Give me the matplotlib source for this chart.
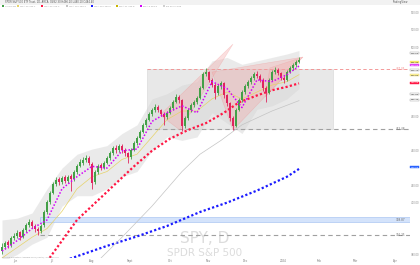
import numpy as np
import matplotlib
matplotlib.use("Agg")
import matplotlib.pyplot as plt
from matplotlib.patches import Polygon, Rectangle

# daily candles
opens = [382.0, 384.4, 387.0, 385.5, 389.8, 390.6, 392.8, 390.4, 394.0, 397.3,
         399.0, 396.4, 395.0, 393.5, 396.8, 404.8, 410.2, 415.8, 420.6, 423.4,
         422.0, 424.6, 422.4, 425.2, 423.8, 427.5, 431.4, 433.2, 434.9, 436.0,
         432.6, 421.8, 427.6, 431.5, 430.0, 433.0, 435.6, 438.9, 441.8, 440.3,
         443.0, 440.6, 438.9, 436.2, 440.7, 444.3, 447.6, 451.1, 454.7, 458.0,
         461.5, 463.4, 465.5, 463.4, 461.5, 459.3, 462.0, 464.5, 468.4, 471.3,
         469.2, 454.6, 459.2, 463.4, 466.7, 468.0, 470.7, 476.5, 484.6, 485.7,
         480.7, 478.2, 473.6, 477.3, 479.0, 472.1, 467.4, 458.8, 454.5, 463.8,
         469.6, 474.2, 477.3, 480.0, 482.3, 484.6, 483.0, 481.1, 476.1, 473.6,
         481.1, 485.7, 486.9, 484.8, 481.9, 481.1, 485.7, 488.1, 489.4, 491.5]
highs = [386.5, 388.0, 388.2, 390.8, 392.5, 394.0, 393.6, 395.2, 398.5, 400.6,
         400.0, 397.6, 396.2, 397.4, 405.5, 411.5, 416.8, 421.8, 424.6, 424.8,
         425.6, 425.8, 426.2, 426.4, 428.6, 432.4, 435.0, 436.2, 437.8, 437.0,
         433.4, 428.6, 432.2, 433.0, 434.0, 436.8, 439.8, 443.0, 443.4, 444.2,
         443.8, 441.6, 439.5, 441.4, 445.6, 448.6, 452.0, 456.0, 459.2, 462.6,
         465.0, 466.8, 466.4, 464.4, 462.4, 462.8, 465.8, 469.4, 472.6, 472.2,
         470.0, 460.2, 464.6, 467.6, 469.6, 471.8, 477.4, 485.6, 487.6, 486.4,
         481.8, 479.0, 478.6, 480.6, 479.8, 473.0, 468.2, 460.0, 464.6, 470.4,
         475.2, 478.6, 481.0, 483.4, 485.8, 486.0, 484.2, 481.8, 477.2, 482.0,
         486.8, 488.2, 487.8, 485.6, 483.2, 486.6, 489.2, 490.8, 492.6, 494.2]
lows = [380.5, 383.2, 384.0, 384.6, 388.4, 389.5, 388.6, 389.4, 393.0, 396.2,
        395.2, 393.0, 391.2, 392.4, 396.0, 403.6, 409.5, 414.8, 419.5, 420.5,
        421.0, 421.4, 421.6, 416.5, 422.8, 426.8, 430.4, 432.0, 433.6, 431.5,
        418.0, 420.6, 426.4, 428.6, 429.2, 432.2, 434.6, 437.8, 439.0, 439.2,
        439.0, 437.2, 433.0, 435.2, 439.8, 443.4, 446.8, 450.2, 453.8, 457.0,
        460.4, 462.2, 462.2, 460.0, 455.0, 458.2, 461.0, 463.6, 467.4, 467.8,
        451.6, 453.2, 458.0, 462.4, 465.4, 467.0, 469.8, 475.6, 483.0, 479.6,
        476.6, 470.0, 472.4, 476.0, 470.8, 466.0, 457.4, 452.0, 453.6, 462.8,
        468.4, 473.0, 476.2, 478.8, 481.2, 482.0, 479.6, 474.8, 468.0, 472.6,
        480.2, 484.6, 483.8, 480.8, 479.4, 480.2, 484.8, 487.0, 488.4, 490.6]
closes = [384.4, 386.7, 385.5, 389.6, 390.8, 392.5, 390.2, 394.2, 397.1, 398.8,
          396.5, 394.8, 393.6, 396.5, 404.6, 410.4, 415.6, 420.8, 423.1, 421.9,
          424.3, 422.5, 424.9, 423.7, 427.7, 431.2, 433.5, 434.7, 435.8, 432.9,
          421.4, 427.7, 431.2, 430.1, 432.9, 435.8, 438.7, 441.6, 440.5, 442.8,
          440.5, 438.7, 436.4, 440.5, 444.5, 447.4, 450.9, 454.9, 457.8, 461.3,
          463.6, 465.3, 463.6, 461.3, 459.5, 461.8, 464.7, 468.2, 471.1, 469.4,
          454.3, 459.0, 463.6, 466.5, 468.2, 470.5, 476.3, 484.4, 485.5, 480.9,
          478.0, 473.4, 477.5, 479.2, 472.3, 467.6, 459.0, 454.3, 463.6, 469.4,
          474.0, 477.5, 479.8, 482.1, 484.4, 483.2, 480.9, 476.3, 473.4, 480.9,
          485.5, 486.7, 485.0, 482.1, 480.9, 485.5, 487.9, 489.6, 491.3, 492.5]

# indicator lines, sampled every few bars
ma_idx = [0, 5, 10, 15, 20, 25, 30, 35, 40, 45, 50, 55, 60, 65, 70, 75, 80, 85, 90, 95, 99]
ma_fast = [382, 388, 395, 400, 418, 425, 431, 430, 440, 441, 457, 462, 466, 462, 480, 476, 465, 481, 480, 484, 489]
ma_20 = [378, 384, 390, 395, 405, 418, 425, 428, 435, 438, 448, 458, 463, 463, 470, 474, 470, 474, 478, 480, 484]
band_up = [400, 401, 404, 418, 430, 438, 441, 443, 450, 455, 470, 473, 478, 480, 492, 494, 490, 492, 494, 496, 498]
band_lo = [376, 380, 386, 390, 408, 414, 414, 418, 425, 428, 440, 448, 446, 448, 462, 456, 450, 464, 466, 470, 476]

slow_idx = [15, 25, 33, 44, 50, 56, 62, 68, 74, 79, 85, 90, 95, 99]
ma_slow = [376, 400, 413, 431, 440, 447, 452, 456, 462, 468, 472, 475, 477, 479]
gray_idx = [33, 40, 50, 60, 66, 73, 80, 90, 99]
ma_gray = [378, 390, 408, 428, 438, 446, 455, 463, 469]
blue_idx = [15, 25, 35, 45, 55, 66, 75, 85, 95, 99]
ma_200 = [373, 379, 385, 390.5, 396.5, 404.6, 410, 417, 425, 429.5]

box_top, box_bot = 487.05, 452.48
zone_lo, zone_hi = 398.87, 401.7
support = 391.25

tri_a = [(52.7, 460.7), (59.3, 452.0), (77.0, 501.7)]
tri_b = [(70.0, 485.5), (77.0, 452.0), (100.3, 494.2)]
tri_c = [(87.7, 471.1), (89.3, 487.9), (100.3, 494.2)]

month_names = ["Jun", "Jul", "Aug", "Sept", "Oct", "Nov", "Dec", "2024", "Feb", "Mar", "Apr"]
month_pos = [4.3, 16.7, 30.0, 42.7, 56.0, 68.7, 81.0, 93.7, 105.7, 117.7, 131.0]

price_ticks = list(range(380, 521, 10))

last_tags = [(496.5, "#ffffff", "#9e9e9e"), (491.3, "#f5e663", "#f5e663"),
             (489.6, "#e040fb", "#e040fb"), (486.7, "#ffffff", "#9e9e9e"),
             (483.8, "#fff59d", "#e6d36a"), (479.2, "#ff1744", "#ff1744"),
             (472.8, "#ffffff", "#9e9e9e"), (469.4, "#ffffff", "#9e9e9e"),
             (430.6, "#2962ff", "#2962ff")]
line_tags = [(box_top, "487.05", "#f28b8b"), (box_bot, "452.48", "#666666"),
             (zone_lo + 1.2, "398.87", "#666666"), (support, "391.25", "#666666")]

W, H = 420, 265
fig = plt.figure(figsize=(W / 100, H / 100), dpi=100)
fig.patch.set_facecolor("white")
ax = fig.add_axes([0, 7 / H, 410 / W, 253 / H])
ax.set_xlim(-0.667, 136)
ax.set_ylim(378.0, 524.3)

n = len(closes)
x = np.arange(n)
o = np.array(opens); c = np.array(closes)
up = c >= o
col = np.where(up, "#43a047", "#e0245e")

# background cloud and zones
ax.fill_between(ma_idx, band_lo, band_up, color="#e4e4e4", alpha=0.75, lw=0, zorder=1)
ax.add_patch(Rectangle((48.3, box_bot), 62.0, box_top - box_bot, facecolor="#d6d6d6",
                       alpha=0.55, edgecolor="#c8c8c8", lw=0.5, zorder=1))
ax.hlines(box_top, 48.3, 136, colors="#f28b8b", linestyles=(0, (4, 3)), lw=0.6, zorder=2)
ax.hlines(box_bot, 48.3, 136, colors="#a0a0a0", linestyles=(0, (4, 3)), lw=0.8, zorder=2)
ax.add_patch(Rectangle((12.7, zone_lo), 130, zone_hi - zone_lo, facecolor="#d4e3fb",
                       edgecolor="#9dbcf0", lw=0.4, zorder=1))
ax.hlines(support, 12.7, 136, colors="#a0a0a0", linestyles=(0, (4, 3)), lw=0.8, zorder=2)

for tri, a in ((tri_a, 0.35), (tri_b, 0.35), (tri_c, 0.3)):
    ax.add_patch(Polygon(tri, closed=True, facecolor="#f4a6a6", alpha=a,
                         edgecolor="#f08c8c", lw=0.4, zorder=2))

# watermark
ax.text(0.5, 0.079, "SPY, D", transform=ax.transAxes, ha="center", va="center",
        fontsize=11, color="#dcdcdc", zorder=0)
ax.text(0.5, 0.02, "SPDR S&P 500", transform=ax.transAxes, ha="center", va="center",
        fontsize=7.5, color="#dcdcdc", zorder=0)

# moving averages
ax.plot(blue_idx, ma_200, color="#1a1aff", ls=(0, (1, 1)), lw=1.6, zorder=3)
ax.plot(gray_idx, ma_gray, color="#c4c4c4", lw=0.5, zorder=3)
ax.plot(slow_idx, ma_slow, color="#ff1744", ls=(0, (1, 1)), lw=1.6, zorder=3)
ax.plot(ma_idx, ma_20, color="#e6d36a", lw=0.5, zorder=3)

# candles
ax.vlines(x, lows, highs, colors=col, lw=0.6, zorder=4)
ax.bar(x, np.abs(c - o), bottom=np.minimum(o, c), width=0.7, color=col, lw=0, zorder=4)

ax.plot(ma_idx, ma_fast, color="#d500f9", ls=(0, (1, 1.2)), lw=1.1, zorder=5)

# axes styling
for s in ax.spines.values():
    s.set_visible(False)
ax.yaxis.tick_right()
tag_prices = [t[0] for t in last_tags] + [t[0] for t in line_tags]
shown = [p for p in price_ticks if min(abs(p - q) for q in tag_prices) > 3]
ax.set_yticks(shown)
ax.set_yticklabels(["%.2f" % p for p in shown], fontsize=1.8, color="#8a8a8a")
ax.tick_params(axis="y", length=0, pad=0.6)
ax.set_xticks(month_pos)
ax.set_xticklabels(month_names, fontsize=2.0, color="#777777")
ax.tick_params(axis="x", length=0, pad=1)

for price, fc, ec in last_tags:
    ax.text(136.2, price, "%.2f" % price, fontsize=1.7, va="center", ha="left",
            color="#333333" if fc in ("#ffffff", "#f5e663", "#fff59d") else "white",
            bbox=dict(boxstyle="square,pad=0.12", fc=fc, ec=ec, lw=0.3), clip_on=False, zorder=6)
for price, txt, tc in line_tags:
    ax.text(134.5, price, txt, fontsize=2.0, va="center", ha="right", color=tc, zorder=6)

# header
fig.patches.append(Rectangle((0, 1 - 4.5 / H), 1, 4.5 / H, transform=fig.transFigure,
                             facecolor="#f2f2f2", edgecolor="none"))
fig.text(5 / W, 1 - 2.3 / H, "SPDR S&P 500 ETF Trust, 1D, ARCA  O482.30 H486.20 L480.10 C484.40",
         fontsize=1.8, color="#555555", va="center")
fig.text(392 / W, 1 - 2.3 / H, "TradingView", fontsize=1.8, color="#555555", va="center")
legend_items = [("#43a047", "Vol 82.5M"), ("#e6d36a", "SMA 20 484.1"), ("#ff1744", "SMA 50 479.2"),
                ("#c4c4c4", "SMA 100 469.4"), ("#1a1aff", "SMA 200 430.6"),
                ("#c8b400", "EMA 21 483.8"), ("#d500f9", "EMA 9 489.6"), ("#d0d0d0", "BB 20 2 close")]
lx = [2, 17, 41, 66, 91, 116, 140, 163]
for (cc, t), px in zip(legend_items, lx):
    fig.patches.append(Rectangle((px / W, 1 - 7.3 / H), 2.2 / W, 2.2 / H, transform=fig.transFigure,
                                 facecolor=cc, edgecolor="none"))
    fig.text((px + 3) / W, 1 - 6.2 / H, t, fontsize=1.6, color="#9a9a9a", va="center")
fig.text(2 / W, 7.5 / H, "Volume Weighted Average Price (VWAP)  hlc3 Session", fontsize=1.5,
         color="#9a9a9a", va="center")

fig.savefig("out.png", dpi=100, facecolor="white")
